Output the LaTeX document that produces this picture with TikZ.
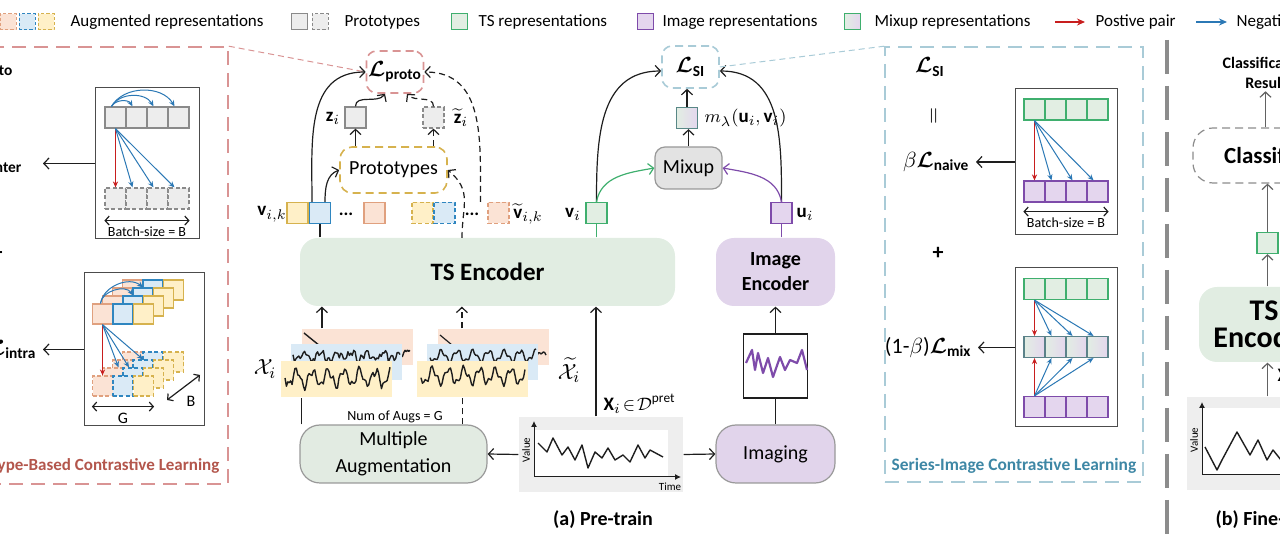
\documentclass[tikz,border=0pt]{standalone}
\usepackage{amsmath,amssymb}
\usepackage{fontspec}
\setmainfont{Carlito}
\usetikzlibrary{arrows.meta,positioning}
\definecolor{augor}{HTML}{E0A07E}
\definecolor{augorf}{HTML}{FBE3D5}
\definecolor{augbl}{HTML}{2F86C0}
\definecolor{augblf}{HTML}{DAEAF6}
\definecolor{augye}{HTML}{D6B24E}
\definecolor{augyef}{HTML}{FFF0C8}
\definecolor{protod}{HTML}{8A8A8A}
\definecolor{protof}{HTML}{EDEDED}
\definecolor{tsd}{HTML}{3FAF6E}
\definecolor{tsf}{HTML}{E2EEE3}
\definecolor{imd}{HTML}{7E4BAA}
\definecolor{imf}{HTML}{E4D6EE}
\definecolor{posred}{HTML}{C81E1E}
\definecolor{negblue}{HTML}{2B78B5}
\definecolor{protoframe}{HTML}{D99494}
\definecolor{prototitle}{HTML}{B3564C}
\definecolor{siframe}{HTML}{A9CBD7}
\definecolor{sititle}{HTML}{3E87A5}
\definecolor{encgreen}{HTML}{E1EDE2}
\definecolor{enclav}{HTML}{E1D4EB}
\definecolor{mixgray}{HTML}{E3E3E3}
\definecolor{augbox}{HTML}{E2EBE2}
\definecolor{boxline}{HTML}{999999}
\definecolor{sepgray}{HTML}{8C8C8C}
\definecolor{plotbg}{HTML}{EEEEEE}
\definecolor{ink}{HTML}{1E1E1E}
\newcommand{\augwave}[5]{\draw[ink,line width=.7pt,line join=round] plot[domain=#1:#2,samples=75] (\x,{#3+#4*sin((\x-#1)*23)+0.5*#4*sin((\x-#1)*57+30)+#5*rand});}
\newcommand{\lossL}{\boldsymbol{\mathcal{L}}}
\tikzset{
  px/.style={x=.5pt,y=-.5pt,line width=.6pt,font=\fontsize{8.5}{10}\selectfont},
  arr/.style={ink,-{Straight Barb[length=2.6pt,width=5.5pt]},line width=.6pt},
  dsh/.style={dash pattern=on 3pt off 2pt},
  posarr/.style={posred,-{Stealth[length=3pt,width=2.6pt]},line width=.5pt},
  negarr/.style={negblue,-{Stealth[length=3pt,width=2.6pt]},line width=.5pt},
  legarr/.style={-{Stealth[length=4pt,width=3.5pt]},line width=.7pt},
  twoway/.style={ink,{Straight Barb[length=2pt,width=4.5pt]}-{Straight Barb[length=2pt,width=4.5pt]},line width=.6pt},
  sq/.style={draw,minimum size=10.5pt,inner sep=0pt,line width=.6pt},
  dsq/.style={sq,dash pattern=on 2pt off 1.2pt},
  lsq/.style={draw,minimum size=8pt,inner sep=0pt,line width=.5pt},
  ldash/.style={dash pattern=on 1.6pt off 1pt},
  legtxt/.style={anchor=west,inner sep=1pt},
  augbg/.style={inner sep=0pt,minimum width=55.5pt,minimum height=18pt},
  enc/.style={rounded corners=9pt,inner sep=0pt,font=\fontsize{12.5}{14}\selectfont\bfseries},
  plain/.style={rounded corners=10pt,inner sep=0pt,draw=boxline,line width=.6pt,font=\fontsize{10}{13.5}\selectfont},
  lossbox/.style={rounded corners=5pt,line width=.8pt,dash pattern=on 4pt off 2.5pt,minimum width=28.5pt,minimum height=21pt,inner sep=0pt,font=\fontsize{11}{13}\selectfont},
  panel/.style={line width=.8pt,dash pattern=on 7pt off 4pt,inner sep=0pt},
  schem/.style={draw=black!70,fill=white,line width=.5pt,inner sep=0pt},
  lossl/.style={font=\fontsize{11}{13}\selectfont,inner sep=3pt},
  vlab/.style={font=\fontsize{9.5}{11}\selectfont,inner sep=1pt},
  ttl/.style={font=\fontsize{8.7}{10}\selectfont\bfseries,inner sep=1pt},
  small/.style={font=\fontsize{7}{8}\selectfont,inner sep=1pt},
  plotbox/.style={fill=plotbg,inner sep=0pt},
}

\begin{document}
\begin{tikzpicture}[px]
\useasboundingbox (0,0) rectangle (1280,544);
\clip (0,0) rectangle (1280,544);
\pgfmathsetseed{11}

% legend
\node[lsq,ldash,draw=augor,fill=augorf] (lga) at (8,22) {};
\node[lsq,ldash,draw=augbl,fill=augblf] (lgb) at (27,22) {};
\node[lsq,ldash,draw=augye,fill=augyef] (lgc) at (46,22) {};
\node[legtxt] (lgat) at (68,22) {Augmented representations};
\node[lsq,draw=protod,fill=protof] (lgp) at (299,22) {};
\node[lsq,ldash,draw=protod,fill=protof] (lgq) at (320,22) {};
\node[legtxt] (lgpt) at (342,22) {Prototypes};
\node[lsq,draw=tsd,fill=tsf] (lgt) at (459,22) {};
\node[legtxt] (lgtt) at (476,22) {TS representations};
\node[lsq,draw=imd,fill=imf] (lgi) at (645,22) {};
\node[legtxt] (lgit) at (660,22) {Image representations};
\node[lsq,draw=tsd,left color=tsf,right color=imf] (lgm) at (852,22) {};
\node[legtxt] (lgmt) at (872,22) {Mixup representations};
\coordinate (lgr0) at (1055,22); \coordinate (lgr1) at (1085,22);
\draw[legarr,posred] (lgr0) -- (lgr1);
\node[legtxt] (lgrt) at (1093,22) {Postive pair};
\coordinate (lgb0) at (1196,22); \coordinate (lgb1) at (1227,22);
\draw[legarr,negblue] (lgb0) -- (lgb1);
\node[legtxt] (lgbt) at (1234,22) {Negative pair};

% prototype-based panel
\node[panel,draw=protoframe,minimum width=131.5pt,minimum height=218.5pt] (ppanel) at (96.5,265.5) {};
\node[lossl,anchor=east] (lprotol) at (20,68) {$\lossL_{\textbf{proto}}$};
\node[lossl,anchor=east] (linter) at (29,163.5) {$\lossL_{\textbf{inter}}$};
\node[font=\fontsize{11}{12}\selectfont\bfseries] (plusp) at (-3,253) {+};
\node[lossl,anchor=east] (lintra) at (43,349.5) {$\lossL_{\textbf{intra}}$};
\node[schem,minimum width=52pt,minimum height=75.5pt] (interbox) at (147,163.5) {};
\foreach \k/\x in {1/115.5,2/136.5,3/157.5,4/178.5}{
  \node[sq,draw=protod,fill=protof] (qa\k) at (\x,117.5) {};
  \node[dsq,draw=protod,fill=protof] (qb\k) at (\x,198.5) {};
}
\draw[posarr] (qa1.south) -- (qb1.north);
\foreach \k in {2,3,4}{
  \draw[negarr] (qa1.south) -- ([xshift=-2pt]qb\k.north);
  \draw[negarr] ([xshift=-2pt]qa1.north) to[bend left=60] ([xshift=-2pt]qa\k.north);
}
\draw[twoway] ([yshift=-5.5pt]qb1.south west) -- ([yshift=-5.5pt]qb4.south east);
\node[small,font=\fontsize{7}{8}\selectfont] (bsz1) at (147,232) {Batch-size = B};
\draw[arr] (interbox.west) -- ([xshift=7pt]linter.east);

\node[schem,minimum width=60pt,minimum height=76.5pt] (intrabox) at (144,349.5) {};
\foreach \l in {3,2,1,0}{
  \foreach \k/\c/\f in {1/augor/augorf,2/augbl/augblf,3/augye/augyef}{
    \node[sq,minimum size=10pt,draw=\c,fill=\f] (ta\l\k) at (82+\k*20.5+\l*10,314-\l*8) {};
    \node[dsq,minimum size=10pt,draw=\c,fill=\f] (tb\l\k) at (82+\k*20.5+\l*10,386-\l*8) {};
  }
}
\draw[negarr] ([xshift=-1pt]ta01.north) to[bend left=70] (ta12.north);
\draw[negarr] ([xshift=-1pt]ta01.north) to[bend left=60] (ta22.north);
\draw[posarr] (ta01.south) -- (tb01.north);
\draw[negarr] (ta01.south) -- ([xshift=3pt]tb11.north);
\draw[negarr] (ta01.south) -- ([xshift=-2pt]tb12.north);
\draw[negarr] (ta01.south) -- (tb22.north);
\draw[twoway] ([yshift=-5pt]tb01.south west) -- ([yshift=-5pt]tb03.south east);
\node[small,font=\fontsize{8}{9}\selectfont] (gsz) at (123,418) {G};
\coordinate (bA) at (167,400); \coordinate (bB) at (200,375);
\draw[twoway] (bA) -- (bB);
\node[small,font=\fontsize{8}{9}\selectfont] (bszb) at (191,401) {B};
\draw[arr] (intrabox.west) -- (lintra.east);
\node[ttl,font=\fontsize{8.5}{10}\selectfont\bfseries,text=prototitle,anchor=east] (pbtitle) at (222,466) {Prototype-Based Contrastive Learning};

% pre-train: prototype branch
\node[lossbox,draw=protoframe] (lproto) at (395,72) {$\lossL_{\textbf{proto}}$};
\draw[protoframe,line width=.5pt,dash pattern=on 3pt off 2pt] (ppanel.north east) -- (lproto.west);
\node[sq,draw=protod,fill=protof] (zi) at (355.5,117.5) {};
\node[dsq,draw=protod,fill=protof] (zt) at (433.5,117.5) {};
\node[vlab] (zil) at (333,118) {$\mathbf{z}_i$};
\node[vlab] (ztl) at (461,118) {$\widetilde{\mathbf{z}}_i$};
\node[rounded corners=6pt,draw=augye,line width=.8pt,dash pattern=on 4pt off 2.5pt,minimum width=53.5pt,minimum height=23pt,inner sep=0pt,font=\fontsize{10}{12}\selectfont] (protos) at (393.5,170) {Prototypes};
\draw[arr] (zi.south |- protos.north) -- (zi.south);
\draw[arr,dsh] (zt.south |- protos.north) -- (zt.south);
\draw[arr] (zi.north) to[out=90,in=235] ([xshift=-5pt]lproto.south);
\draw[arr,dsh] (zt.north) to[out=90,in=-50] ([xshift=6pt]lproto.south);

\node[sq,draw=augye,fill=augyef] (vy) at (297.5,213) {};
\node[sq,draw=augbl,fill=augblf] (vb) at (320,213) {};
\node[vlab,font=\fontsize{9}{10}\selectfont\bfseries] (vdots) at (346,214) {...};
\node[sq,draw=augor,fill=augorf] (vo) at (374.5,213) {};
\node[dsq,draw=augye,fill=augyef] (wy) at (422.5,213) {};
\node[dsq,draw=augbl,fill=augblf] (wb) at (444.5,213) {};
\node[vlab,font=\fontsize{9}{10}\selectfont\bfseries] (wdots) at (472,214) {...};
\node[dsq,draw=augor,fill=augorf] (wo) at (498.5,213) {};
\node[vlab] (vikl) at (272,214) {$\mathbf{v}_{i,k}$};
\node[vlab] (wikl) at (528,214) {$\widetilde{\mathbf{v}}_{i,k}$};
\draw[arr] ([xshift=-4pt]vb.north) to[out=90,in=180,looseness=1.1] (lproto.west);
\draw[arr] ([xshift=2.5pt]vb.north) to[out=90,in=200] (protos.west);
\draw[arr,dsh] ([xshift=-3.5pt]wo.north west) to[out=90,in=0,looseness=1.1] (lproto.east);

% encoders
\node[enc,fill=encgreen,minimum width=187.5pt,minimum height=34pt] (tsenc) at (487.5,272) {TS Encoder};
\node[enc,fill=enclav,minimum width=59.5pt,minimum height=34pt,align=center,font=\fontsize{10}{12.5}\selectfont\bfseries] (imgenc) at (775.5,272) {Image\\Encoder};
\draw[ink] (vb.south |- tsenc.north) -- (vb.south);
\coordinate (dup) at (462,238);
\draw[arr,dsh] (dup) to[out=90,in=-40,looseness=1.2] (protos.east);

% series-image branch
\node[lossbox,draw=siframe] (lsi) at (690.5,67) {$\lossL_{\textbf{SI}}$};
\node[sq,draw=tsd!60!imd,left color=tsf,right color=imf] (mixsq) at (687,118) {};
\node[vlab,anchor=west] (mixl) at (702,118) {$m_\lambda(\mathbf{u}_i,\mathbf{v}_i)$};
\node[rounded corners=5pt,fill=mixgray,draw=boxline,line width=.6pt,minimum width=33.5pt,minimum height=21pt,inner sep=0pt,font=\fontsize{10}{12}\selectfont] (mixup) at (688.5,168) {Mixup};
\node[sq,draw=tsd,fill=tsf] (vi) at (596.5,213) {};
\node[sq,draw=imd,fill=imf] (ui) at (781.5,213) {};
\node[vlab] (vil) at (573,214) {$\mathbf{v}_i$};
\node[vlab] (uil) at (805,214) {$\mathbf{u}_i$};
\draw[tsd] (vi.south |- tsenc.north) -- (vi.south);
\draw[imd] (ui.south |- imgenc.north) -- (ui.south);
\draw[arr] (mixup.north) -- (mixup.north |- mixsq.south);
\draw[arr] (mixsq.north) -- (mixsq.north |- lsi.south);
\draw[arr] (vi.north) to[out=90,in=180,looseness=1.1] ([yshift=-2pt]lsi.west);
\draw[arr] (ui.north) to[out=90,in=0,looseness=1.1] ([yshift=-2pt]lsi.east);
\draw[arr,tsd] (vi.north) to[out=80,in=190] (mixup.west);
\draw[arr,imd] (ui.north) to[out=100,in=-10] (mixup.east);

% inputs
\node[augbg,fill=augorf] (ao1) at (357,347) {};
\augwave{318}{410}{353}{4}{2}
\draw[ink,line width=.7pt] (304,333) -- (320,346);
\node[augbg,fill=augblf] (ab1) at (346.5,362) {};
\augwave{293}{400}{356}{4}{3}
\node[augbg,fill=augyef] (ay1) at (336.5,379.5) {};
\augwave{285}{390}{378}{7}{2.5}
\node[augbg,fill=augorf] (ao2) at (493,347) {};
\augwave{452}{546}{355}{3}{0.5}
\draw[ink,line width=.6pt] (440,335) -- (452,345);
\node[augbg,fill=augblf] (ab2) at (482.5,362) {};
\augwave{430}{536}{356}{5}{0.6}
\node[augbg,fill=augyef] (ay2) at (472.5,379.5) {};
\augwave{421}{525}{376}{7}{0.8}
\node[vlab,font=\fontsize{11}{12}\selectfont] (xil) at (265,369) {$\mathcal{X}_i$};
\node[vlab,font=\fontsize{11}{12}\selectfont] (xtl) at (569,370) {$\widetilde{\mathcal{X}}_i$};
\draw[arr] ([xshift=10.5pt]ao1.north west) -- ([xshift=10.5pt]ao1.north west |- tsenc.south);
\draw[arr,dsh] ([xshift=12.5pt]ao2.north west) -- ([xshift=12.5pt]ao2.north west |- tsenc.south);

\node[plain,fill=augbox,minimum width=93.5pt,minimum height=29pt,align=center] (multaug) at (393.5,454) {Multiple\\Augmentation};
\draw[ink] ([xshift=10.5pt]ay1.south west |- multaug.north) -- ([xshift=10.5pt]ay1.south west);
\draw[ink,dsh] ([xshift=23pt]ay2.south west |- multaug.north) -- ([xshift=23pt]ay2.south west);
\node[small] (nauglab) at (395,417) {Num of Augs = G};

\node[plotbox,minimum width=82pt,minimum height=37.5pt] (tsplot) at (601,454.5) {};
\fill[white] (534,430) rectangle (668,476);
\draw[ink,-{Latex[length=3pt,width=3pt]},line width=.5pt] (534,477) -- (534,421);
\draw[ink,-{Latex[length=3pt,width=3pt]},line width=.5pt] (534,477) -- (681,477);
\node[rotate=90,font=\fontsize{5.5}{6}\selectfont,inner sep=0pt] (vall) at (526,450) {Value};
\node[font=\fontsize{5.5}{6}\selectfont,inner sep=0pt] (timel) at (670,487) {Time};
\draw[ink,line width=.7pt,line join=round] (538,443) -- (547,452) -- (553,438) -- (562,455) -- (568,447) -- (575,460) -- (582,445) -- (588,468) -- (595,452) -- (602,458) -- (608,448) -- (615,460) -- (623,455) -- (630,462) -- (638,445) -- (645,458) -- (650,450) -- (663,457);
\draw[arr] (tsplot.west) -- (multaug.east);
\draw[arr] ([xshift=-2.5pt]tsplot.north) -- ([xshift=-2.5pt]tsplot.north |- tsenc.south);
\node[vlab,anchor=west,font=\fontsize{9.5}{11}\selectfont] (xdl) at (601,404) {$\mathbf{X}_i\!\in\!\mathcal{D}^{\mathrm{pret}}$};

\node[plain,fill=enclav,minimum width=59.5pt,minimum height=29pt] (imaging) at (775.5,454) {Imaging};
\node[draw=ink,fill=white,minimum size=32pt,inner sep=0pt,line width=.6pt] (imgsq) at (775.5,366) {};
\draw[imd,line width=1.1pt,line join=round] (746,363) -- (752,350) -- (755,370) -- (758,353) -- (763,373) -- (768,358) -- (773,377) -- (780,357) -- (785,370) -- (790,360) -- (797,363) -- (802,350) -- (807,370);
\draw[arr] (tsplot.east) -- (imaging.west);
\draw[ink] (imaging.north) -- (imgsq.south);
\draw[arr] (imgsq.north) -- (imgenc.south);
\node[ttl,font=\fontsize{10}{12}\selectfont\bfseries] (pretl) at (603,520) {(a) Pre-train};

% series-image panel
\node[panel,draw=siframe,minimum width=129pt,minimum height=217.5pt] (spanel) at (1014,264.5) {};
\draw[siframe,line width=.5pt,dash pattern=on 3pt off 2pt] (lsi.east) -- (spanel.north west);
\node[lossl] (lsil) at (930,67) {$\lossL_{\textbf{SI}}$};
\node[rotate=90,font=\fontsize{11}{12}\selectfont] (eqs) at (935,116) {$=$};
\node[lossl,anchor=east] (naivel) at (976,162) {$\beta\lossL_{\textbf{naive}}$};
\node[font=\fontsize{11}{12}\selectfont\bfseries] (pluss) at (938,253) {+};
\node[lossl,anchor=east] (mixll) at (978,347.5) {(1-$\beta$)$\lossL_{\textbf{mix}}$};
\node[schem,minimum width=51pt,minimum height=73pt] (naivebox) at (1066,162) {};
\node[schem,minimum width=51pt,minimum height=79.5pt] (mixbox) at (1066,347.5) {};
\foreach \k/\x in {1/1034.5,2/1055.5,3/1076.5,4/1097.5}{
  \node[sq,draw=tsd,fill=tsf] (na\k) at (\x,109.5) {};
  \node[sq,draw=imd,fill=imf] (nb\k) at (\x,191.5) {};
  \node[sq,draw=tsd,fill=tsf] (ma\k) at (\x,289) {};
  \node[sq,draw=tsd!55!imd,left color=tsf,right color=imf] (mm\k) at (\x,347) {};
  \node[sq,draw=imd,fill=imf] (mb\k) at (\x,407) {};
}
\draw[posarr] (na1.south) -- (nb1.north);
\draw[posarr] (ma1.south) -- (mm1.north);
\draw[posarr] (mb1.north) -- (mm1.south);
\foreach \k in {2,3,4}{
  \draw[negarr] (na1.south) -- ([xshift=-2pt]nb\k.north);
  \draw[negarr] (ma1.south) -- ([xshift=-2pt]mm\k.north);
  \draw[negarr] (mb1.north) -- ([xshift=-2pt]mm\k.south);
}
\draw[twoway] ([yshift=-4.5pt]nb1.south west) -- ([yshift=-4.5pt]nb4.south east);
\node[small] (bsz2) at (1066,223) {Batch-size = B};
\draw[arr] (naivebox.west) -- (naivel.east);
\draw[arr] (mixbox.west) -- (mixll.east);
\node[ttl] (sititle) at (1014,466) {\textcolor{sititle}{Series-Image Contrastive Learning}};

% fine-tune
\draw[sepgray,line width=2pt,dash pattern=on 17pt off 6pt] (1167,40) -- (1167,552);
\node[ttl,font=\fontsize{8}{10}\selectfont\bfseries,align=center] (clsres) at (1266,73) {Classification\\Result};
\node[draw=sepgray,line width=.6pt,dash pattern=on 4pt off 2.5pt,rounded corners=10pt,minimum width=74pt,minimum height=27.5pt,inner sep=0pt,font=\fontsize{11.5}{14}\selectfont\bfseries] (clsfr) at (1267,155.5) {Classifier};
\node[sq,draw=tsd,fill=tsf] (fsq) at (1267.5,243) {};
\node[enc,fill=encgreen,minimum width=65pt,minimum height=37.5pt,align=center,font=\fontsize{15}{13.5}\selectfont\bfseries] (ftsenc) at (1264,324.5) {TS\\Encoder};
\node[plotbox,minimum width=80pt,minimum height=46.5pt] (ftsplot) at (1267,443.5) {};
\fill[white] (1203,408) rectangle (1300,474);
\draw[ink,-{Latex[length=3pt,width=3pt]},line width=.5pt] (1202,475) -- (1202,402);
\draw[ink,line width=.5pt] (1202,475) -- (1300,475);
\node[rotate=90,font=\fontsize{5.5}{6}\selectfont,inner sep=0pt] (fvall) at (1194,440) {Value};
\draw[ink,line width=.7pt,line join=round] (1205,447) -- (1217,470) -- (1222,460) -- (1237,432) -- (1250,455) -- (1258,440) -- (1267,460) -- (1273,450) -- (1285,465) -- (1295,445);
\draw[arr,sepgray!70!black] ([xshift=-1pt]fsq.north |- clsfr.north) -- ([xshift=-1pt]fsq.north |- clsres.south);
\draw[arr,sepgray!70!black] (fsq.north) -- (fsq.north |- clsfr.south);
\draw[arr,sepgray!70!black] (fsq.south |- ftsenc.north) -- (fsq.south);
\draw[arr,sepgray!70!black] (fsq.south |- ftsplot.north) -- (fsq.south |- ftsenc.south);
\node[vlab,anchor=west] (fxl) at (1275,377) {$\mathbf{X}_i$};
\node[ttl,font=\fontsize{10}{12}\selectfont\bfseries,anchor=west] (ftl) at (1213,520) {(b) Fine-tune};
\end{tikzpicture}
\end{document}
